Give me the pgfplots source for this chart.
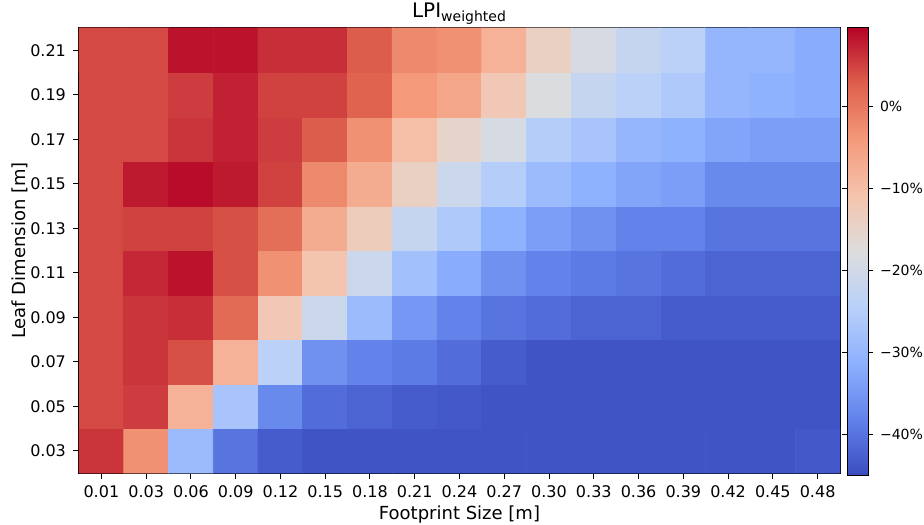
\documentclass[border=0pt]{standalone}
\usepackage{pgfplots}
\usepackage{pgfplotstable}
\pgfplotsset{compat=1.18}
\usepackage{fontspec}
\setmainfont{DejaVu Sans}
% rows: y index 0 (0.03) ... 9 (0.21); columns x index 0 (0.01) ... 16 (0.48)
\pgfplotstableread{
x y z
0 0 6
1 0 -3
2 0 -29
3 0 -40
4 0 -43
5 0 -44
6 0 -44
7 0 -44
8 0 -44
9 0 -44
10 0 -44
11 0 -44
12 0 -44
13 0 -44
14 0 -44
15 0 -44
16 0 -43.5
0 1 4.5
1 1 5.5
2 1 -8
3 1 -27
4 1 -37
5 1 -41
6 1 -42
7 1 -43
8 1 -43.5
9 1 -44
10 1 -44
11 1 -44
12 1 -44
13 1 -44
14 1 -44
15 1 -44
16 1 -44
0 2 4.5
1 2 6
2 2 4
3 2 -8
4 2 -24
5 2 -36
6 2 -38
7 2 -39
8 2 -41
9 2 -43
10 2 -44
11 2 -44
12 2 -44
13 2 -44
14 2 -44
15 2 -44
16 2 -44
0 3 4.5
1 3 6
2 3 6.5
3 3 1.5
4 3 -12
5 3 -21
6 3 -29
7 3 -35
8 3 -38
9 3 -40
10 3 -41
11 3 -42
12 3 -42
13 3 -43
14 3 -43
15 3 -43
16 3 -43
0 4 4.5
1 4 7
2 4 8.5
3 4 4
4 4 -3
5 4 -11
6 4 -21
7 4 -28
8 4 -32
9 4 -36
10 4 -38
11 4 -39
12 4 -40
13 4 -41
14 4 -42
15 4 -42
16 4 -42
0 5 4.5
1 5 5
2 5 5
3 5 4
4 5 1
5 5 -7
6 5 -13
7 5 -22
8 5 -26
9 5 -31
10 5 -34
11 5 -36
12 5 -38
13 5 -38
14 5 -40
15 5 -40
16 5 -40
0 6 4.5
1 6 8
2 6 9
3 6 8
4 6 5
5 6 -2
6 6 -7
7 6 -14
8 6 -21
9 6 -25
10 6 -29
11 6 -31
12 6 -33
13 6 -34
14 6 -37
15 6 -37
16 6 -37
0 7 4.5
1 7 4.5
2 7 6
3 7 7.5
4 7 5.5
5 7 3
6 7 -3
7 7 -10
8 7 -15
9 7 -19
10 7 -25
11 7 -27
12 7 -30
13 7 -31
14 7 -33
15 7 -34
16 7 -34
0 8 4.5
1 8 4.5
2 8 5.5
3 8 7.5
4 8 5
5 8 5
6 8 2.5
7 8 -4
8 8 -6
9 8 -12
10 8 -18
11 8 -22
12 8 -24
13 8 -26
14 8 -30
15 8 -31
16 8 -32
0 9 4.5
1 9 4.5
2 9 8.5
3 9 8.5
4 9 6.5
5 9 6.5
6 9 3
7 9 -2
8 9 -3
9 9 -8
10 9 -14
11 9 -19
12 9 -22
13 9 -24
14 9 -30
15 9 -30
16 9 -32
}\lpitable
\begin{document}
\begin{tikzpicture}
\path[use as bounding box] (-39.5pt,-25.5pt) rectangle (422.5pt,236.5pt);
\begin{axis}[
  at={(0,0)}, anchor=south west,
  scale only axis, width=380.5pt, height=222.5pt,
  xmin=-0.5, xmax=16.5, ymin=-0.5, ymax=9.5,
  xtick={0,...,16},
  xticklabels={0.01,0.03,0.06,0.09,0.12,0.15,0.18,0.21,0.24,0.27,0.30,0.33,0.36,0.39,0.42,0.45,0.48},
  ytick={0,...,9},
  yticklabels={0.03,0.05,0.07,0.09,0.11,0.13,0.15,0.17,0.19,0.21},
  tick align=outside, tick pos=left, major tick length=3pt,
  tick style={black, line width=0.5pt},
  ticklabel style={font=\fontsize{8}{9}\selectfont},
  xlabel={Footprint Size [m]}, ylabel={Leaf Dimension [m]},
  label style={font=\fontsize{9}{10}\selectfont},
  xlabel style={yshift=3pt},
  ylabel style={yshift=-5.5pt},
  title={LPI\textsubscript{weighted}},
  title style={font=\fontsize{10}{11}\selectfont, yshift=-7.5pt},
  axis line style={black, line width=0.5pt},
  colormap={coolwarm}{rgb255=(59,76,192) rgb255=(98,130,234) rgb255=(141,176,254) rgb255=(184,208,249) rgb255=(221,221,221) rgb255=(245,196,173) rgb255=(244,154,123) rgb255=(222,96,77) rgb255=(180,4,38)},
  point meta min=-45, point meta max=9.6,
  colorbar right,
  colorbar shift/.style={xshift=3.5pt},
  colorbar style={
    at={(parent axis.north east)}, anchor=north west,
    scale only axis, width=10.5pt, height=223.5pt,
    ytick={-40,-30,-20,-10,0},
    yticklabels={−40\%,−30\%,−20\%,−10\%,0\%},
    yticklabel style={font=\fontsize{7}{8}\selectfont},
    tick align=outside, major tick length=2.5pt,
    axis line style={black, line width=0.5pt},
  },
]
\addplot[matrix plot*, mesh/cols=17, point meta=explicit] table[x=x, y=y, meta=z] {\lpitable};
\end{axis}
\end{tikzpicture}
\end{document}
